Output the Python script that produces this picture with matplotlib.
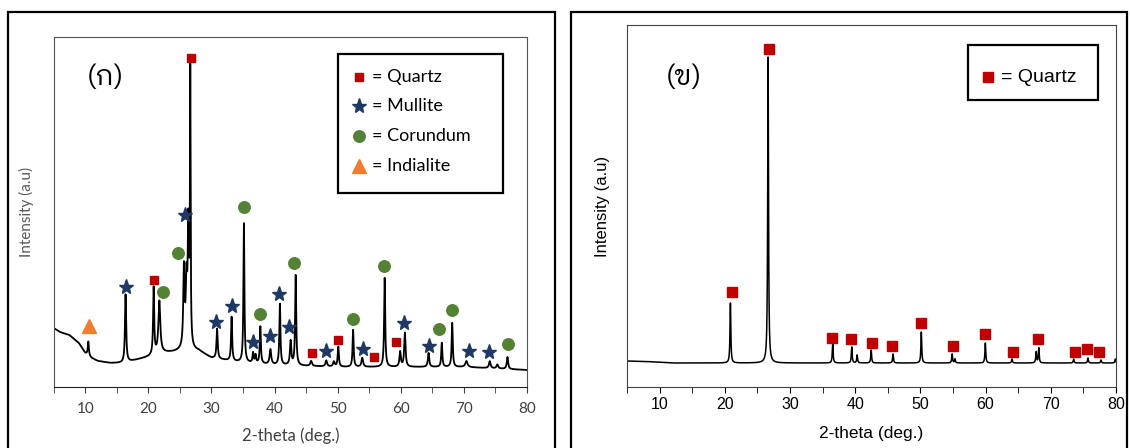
import numpy as np
import matplotlib
matplotlib.use("Agg")
import matplotlib.pyplot as plt
from matplotlib.patches import Rectangle

# Fired body (ก): peak positions (2-theta), heights above background, widths
fired_pos = [10.5, 16.4, 20.85, 21.75, 25.65, 26.05, 26.35, 26.65, 30.9, 33.2, 35.15,
             36.6, 37.0, 37.75, 39.35, 40.85, 42.55, 43.35, 45.8, 48.2, 49.4, 50.1,
             52.45, 53.9, 57.45, 59.9, 60.65, 64.4, 66.5, 68.15, 70.4, 74.1, 75.3, 76.9]
fired_height = [14, 68, 67, 52, 79, 60, 120, 270, 30, 44, 139,
                10, 8, 37, 15, 61, 24, 90, 5, 6, 5, 20,
                37, 9, 89, 15, 34, 14, 24, 44, 6, 7, 4, 12]
fired_width = [0.2, 0.22, 0.2, 0.35, 0.25, 0.25, 0.25, 0.12, 0.22, 0.2, 0.18,
               0.2, 0.2, 0.2, 0.3, 0.2, 0.25, 0.2, 0.3, 0.3, 0.3, 0.22,
               0.2, 0.3, 0.2, 0.25, 0.25, 0.25, 0.2, 0.2, 0.4, 0.3, 0.3, 0.25]
# background (amorphous hump) knots
fired_bg_x = [5, 6, 7.5, 9, 10, 11, 12, 14, 16, 18, 20, 22, 24, 26, 28, 30, 34, 40, 50, 60, 70, 80]
fired_bg_y = [59, 55, 52, 44, 34, 29, 26, 24, 24, 27, 30, 34, 35, 37, 36, 29, 25, 22, 20, 20, 20, 17]

# phase markers for (ก)
quartz_x = [26.73, 20.85, 46.0, 50.0, 55.8, 59.3]
quartz_y = [329, 107, 34, 47, 30, 45]
mullite_x = [16.43, 25.77, 30.75, 33.19, 36.58, 39.36, 40.77, 42.36, 48.19, 54.02, 60.47, 64.43, 70.77, 73.94]
mullite_y = [100, 172, 65, 81, 45, 51, 93, 60, 36, 38, 64, 41, 36, 35]
corundum_x = [24.64, 22.38, 35.11, 37.66, 43.04, 52.43, 57.41, 66.13, 68.11, 77.0]
corundum_y = [134, 95, 180, 73, 124, 68, 121, 58, 77, 43]
indialite_x = [10.66]
indialite_y = [61]

# Raw material (ข): quartz only
raw_pos = [20.86, 26.64, 36.55, 39.47, 40.3, 42.45, 45.8, 50.14, 54.87, 55.3,
           59.96, 64.05, 67.75, 68.15, 73.5, 75.7, 77.7, 79.9]
raw_height = [60, 306, 20, 16, 8, 13, 9, 31, 9, 4,
              20, 4, 11, 15, 4, 5, 3, 4]
raw_bg_x = [5, 8, 12, 20, 40, 80]
raw_bg_y = [26, 25.5, 24, 24, 24, 24]

raw_quartz_x = [21.14, 26.78, 36.45, 39.38, 42.53, 45.57, 50.1, 55.07, 59.94, 64.14, 68.06, 73.65, 75.53, 77.46]
raw_quartz_y = [95, 338, 49, 48, 44, 41, 64, 41, 53, 35, 48, 35, 38, 35]

QUARTZ = "#c00000"
MULLITE = "#1f3864"
CORUNDUM = "#548235"
INDIALITE = "#ed7d31"
THAI = ["IBM Plex Sans Thai Looped", "DejaVu Sans"]


def pattern(tt, pos, height, width, bg_x, bg_y):
    y = np.interp(tt, bg_x, bg_y)
    for p, h, w in zip(pos, height, width):
        y = y + h / (1 + ((tt - p) / (w / 2)) ** 2)
    return y


tt = np.arange(5, 80.001, 0.01)

fig = plt.figure(figsize=(11.3, 4.48), dpi=100)
W, H = 1130, 448

# panel frames
fig.patches.append(Rectangle((8 / W, -0.1), 547 / W, 1.1 - 12 / H, transform=fig.transFigure,
                             fill=False, edgecolor="black", linewidth=1.6))
fig.patches.append(Rectangle((571 / W, -0.1), 556 / W, 1.1 - 12 / H, transform=fig.transFigure,
                             fill=False, edgecolor="black", linewidth=1.6))

# ---- (ก) fired body
ax1 = fig.add_axes([53.6 / W, 1 - 387 / H, 473.4 / W, 350 / H])
ax1.plot(tt, pattern(tt, fired_pos, fired_height, fired_width, fired_bg_x, fired_bg_y),
         color="black", linewidth=1.3)
ax1.plot(quartz_x, quartz_y, "s", color=QUARTZ, ms=6, ls="none")
ax1.plot(mullite_x, mullite_y, "*", color=MULLITE, ms=11, ls="none")
ax1.plot(corundum_x, corundum_y, "o", color=CORUNDUM, ms=8.3, ls="none")
ax1.plot(indialite_x, indialite_y, "^", color=INDIALITE, ms=10.5, ls="none")
ax1.set_xlim(5, 80)
ax1.set_ylim(0, 350)
ax1.set_yticks([])
ax1.set_xticks(range(10, 81, 10))
ax1.set_xticks(range(5, 81, 5), minor=True)
ax1.tick_params(axis="x", which="both", direction="out", length=4, pad=6.5, labelsize=11,
                colors="#404040", labelcolor="#404040")
for s in ax1.spines.values():
    s.set_color("#555555")
ax1.spines["bottom"].set_color("#222222")
ax1.set_xlabel("2-theta (deg.)", fontsize=12, color="#404040", family="Lato", labelpad=8.5)
ax1.set_ylabel("Intensity (a.u)", fontsize=11, color="#595959", family="Lato", labelpad=14)
for lab in ax1.get_xticklabels():
    lab.set_family("Lato")
ax1.text(0.07, 0.883, "(ก)", transform=ax1.transAxes, fontsize=20, family=THAI, va="center")

# legend (ก)
ax1.add_patch(Rectangle((0.600, 0.555), 0.349, 0.395, transform=ax1.transAxes,
                        fill=False, edgecolor="black", linewidth=1.6))
leg_items = [("s", QUARTZ, 6, "Quartz"), ("*", MULLITE, 11, "Mullite"),
             ("o", CORUNDUM, 8.3, "Corundum"), ("^", INDIALITE, 10.5, "Indialite")]
for i, (m, c, ms, name) in enumerate(leg_items):
    yy = 0.886 - i * 0.0845
    ax1.plot([0.645], [yy], m, color=c, ms=ms, transform=ax1.transAxes, clip_on=False)
    ax1.text(0.672, yy, "= " + name, transform=ax1.transAxes, fontsize=13,
             family="Lato", va="center")

# ---- (ข) raw material
ax2 = fig.add_axes([627 / W, 1 - 387 / H, 489 / W, 362 / H])
ax2.plot(tt, pattern(tt, raw_pos, raw_height, [0.15] * len(raw_pos), raw_bg_x, raw_bg_y),
         color="black", linewidth=1.1)
ax2.plot(raw_quartz_x, raw_quartz_y, "s", color=QUARTZ, ms=7.5, ls="none")
ax2.set_xlim(5, 80)
ax2.set_ylim(0, 362)
ax2.set_yticks([])
ax2.set_xticks(range(10, 81, 10))
ax2.set_xticks(range(5, 81, 5), minor=True)
ax2.tick_params(axis="x", which="both", direction="out", length=4, labelsize=11.5)
for s in ax2.spines.values():
    s.set_color("#444444")
ax2.set_xlabel("2-theta (deg.)", fontsize=12.5, family="Liberation Sans", labelpad=10)
ax2.set_ylabel("Intensity (a.u)", fontsize=12, family="Liberation Sans", labelpad=12)
for lab in ax2.get_xticklabels():
    lab.set_family("Liberation Sans")
ax2.text(0.08, 0.856, "(ข)", transform=ax2.transAxes, fontsize=20, family=THAI, va="center")

ax2.add_patch(Rectangle((0.697, 0.792), 0.266, 0.152, transform=ax2.transAxes,
                        fill=False, edgecolor="black", linewidth=1.6))
ax2.plot([0.739], [0.856], "s", color=QUARTZ, ms=7.5, transform=ax2.transAxes, clip_on=False)
ax2.text(0.765, 0.856, "= Quartz", transform=ax2.transAxes, fontsize=14,
         family="Liberation Sans", va="center")

fig.savefig("out.png", dpi=100)
